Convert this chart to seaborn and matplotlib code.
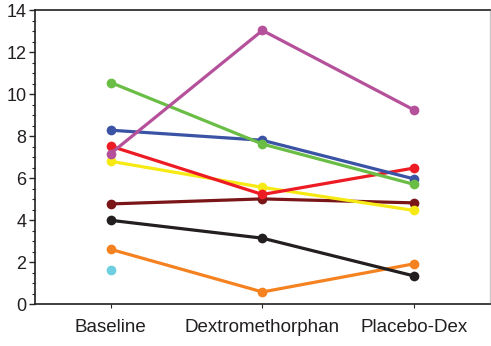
import matplotlib
matplotlib.use("Agg")
import matplotlib.pyplot as plt
from matplotlib.ticker import MultipleLocator
import seaborn as sns
import pandas as pd
import numpy as np

sns.set_style("ticks")
plt.rcParams['font.family'] = ['Liberation Sans', 'DejaVu Sans']

# ===== DATA =====
conditions = ["Baseline", "Dextromethorphan", "Placebo-Dex"]
subjects = ["S1", "S2", "S3", "S4", "S5", "S6", "S7", "S8", "S9"]

s1 = [7.17, 13.03, 9.24]    # purple
s2 = [10.55, 7.62, 5.70]    # green
s3 = [8.28, 7.80, 5.96]     # blue
s4 = [7.52, 5.22, 6.48]     # red
s5 = [6.80, 5.56, 4.46]     # yellow
s6 = [4.77, 5.01, 4.82]     # dark red
s7 = [3.99, 3.14, 1.34]     # black
s8 = [2.61, 0.58, 1.92]     # orange
s9 = [1.61, np.nan, np.nan] # cyan

colors = ["#B5509B", "#6ABD45", "#3A53A4", "#ED1C24", "#F7EA14",
          "#7A1518", "#231F20", "#F58220", "#6DCFE0"]

all_vals = [s1, s2, s3, s4, s5, s6, s7, s8, s9]
rows = []
for subj, vals in zip(subjects, all_vals):
    for i, v in enumerate(vals):
        rows.append({"subject": subj, "pos": i, "value": v})
df = pd.DataFrame(rows)

# ===== PLOT =====
fig = plt.figure(figsize=(4.91, 3.46), dpi=100)
ax = fig.add_axes([0.071, 0.121, 0.927, 0.850])

sns.lineplot(data=df.dropna(), x="pos", y="value", hue="subject",
             hue_order=subjects[::-1], palette=colors[::-1],
             marker="o", markersize=7, markeredgewidth=0,
             linewidth=2.3, legend=False, ax=ax, sort=False)

ax.set_xlim(-0.5, 2.5)
ax.set_ylim(0, 14)
ax.set_xticks(range(len(conditions)))
ax.set_xticklabels(conditions, fontsize=13.5, color="#231F20")
ax.yaxis.set_major_locator(MultipleLocator(2))
ax.yaxis.set_minor_locator(MultipleLocator(0.5))
ax.tick_params(axis="y", labelsize=13, labelcolor="#231F20", length=4, width=1, pad=2)
ax.tick_params(axis="y", which="minor", length=2, width=0.8)
ax.tick_params(axis="x", length=3, width=0.8, pad=8)
ax.set_xlabel("")
ax.set_ylabel("")

for side in ["left", "bottom", "top"]:
    ax.spines[side].set_color("#231F20")
    ax.spines[side].set_linewidth(1.2)
ax.spines["right"].set_color("#C8C8C8")
ax.spines["right"].set_linewidth(1.0)
ax.spines["top"].set_visible(True)
ax.spines["right"].set_visible(True)

fig.savefig("out.png", dpi=100)
